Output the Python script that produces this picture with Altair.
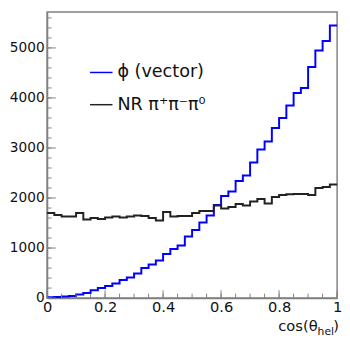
import altair as alt
import pandas as pd

# 40 bins of width 0.025 on cos(theta_hel)
edges = [round(i * 0.025, 3) for i in range(41)]

phi_vector = [15, 20, 30, 40, 70, 100, 155, 200, 240, 290,
              360, 410, 490, 600, 670, 750, 880, 980, 1050, 1230,
              1360, 1510, 1650, 1860, 2040, 2130, 2340, 2450, 2710, 2970,
              3130, 3400, 3600, 3850, 4100, 4200, 4620, 4950, 5140, 5450]

nr_3pi = [1700, 1660, 1630, 1630, 1700, 1570, 1600, 1580, 1610, 1630,
          1610, 1630, 1650, 1640, 1600, 1550, 1720, 1630, 1640, 1640,
          1700, 1740, 1740, 1850, 1790, 1820, 1880, 1850, 1930, 1980,
          1890, 2020, 2060, 2075, 2080, 2080, 2060, 2200, 2220, 2270]

series_names = ["phi", "nr"]
series_colors = ["#0000ff", "#222222"]
legend_labels = ["\u03d5 (vector)", "NR \u03c0\u207a\u03c0\u207b\u03c0\u2070"]

y_major = [0, 1000, 2000, 3000, 4000, 5000]
y_minor = list(range(0, 5601, 200))
x_major = [0, 0.2, 0.4, 0.6, 0.8, 1.0]
x_minor = [round(i * 0.05, 2) for i in range(21)]

rows = []
for name, vals in zip(series_names, [phi_vector, nr_3pi]):
    for e, v in zip(edges, vals + [vals[-1]]):
        rows.append({"x": e, "count": v, "series": name})
df = pd.DataFrame(rows)

FONT = "DejaVu Sans"
GRAY = "#808080"
W, H = 297, 293

xs = alt.Scale(domain=[0, 1], nice=False, zero=False)
ys = alt.Scale(domain=[0, 5720], nice=False)

hist = alt.Chart(df).mark_line(interpolate="step-after", strokeWidth=2).encode(
    x=alt.X("x:Q", scale=xs,
            axis=alt.Axis(values=x_major, format="~g", title=None, labelFontSize=15,
                          labelPadding=2, labelFlush=False, labelOverlap=False)),
    y=alt.Y("count:Q", scale=ys,
            axis=alt.Axis(values=y_major, format="d", title=None, labelFontSize=14,
                          labelPadding=3, labelOverlap=False)),
    color=alt.Color("series:N", scale=alt.Scale(domain=series_names, range=series_colors),
                    legend=None),
)

def yticks(vals, length):
    return alt.Chart(pd.DataFrame({"count": vals})).mark_rule(color=GRAY, strokeWidth=1).encode(
        y=alt.Y("count:Q", scale=ys, title=None), x=alt.value(0), x2=alt.value(length))

def xticks(vals, length):
    return alt.Chart(pd.DataFrame({"x": vals})).mark_rule(color=GRAY, strokeWidth=1).encode(
        x=alt.X("x:Q", scale=xs, title=None), y=alt.value(H), y2=alt.value(H - length))

layers = [hist, yticks(y_minor, 4.5), yticks(y_major, 9), xticks(x_minor, 4.5), xticks(x_major, 8)]

# legend
for i, (lab, col) in enumerate(zip(legend_labels, series_colors)):
    ly = 62 + i * 33
    layers.append(alt.Chart(pd.DataFrame({"t": [lab]})).mark_rule(color=col, strokeWidth=1.5).encode(
        x=alt.value(44), x2=alt.value(67), y=alt.value(ly)))
    layers.append(alt.Chart(pd.DataFrame({"t": [lab]})).mark_text(
        font=FONT, fontSize=18, align="left", baseline="middle", color="#111").encode(
        x=alt.value(72), y=alt.value(ly), text="t:N"))

# axis title cos(theta_hel)
title_parts = ["cos(\u03b8", "hel", ")"]
layers.append(alt.Chart(pd.DataFrame({"t": [title_parts[0]]})).mark_text(
    font=FONT, fontSize=15, align="right", baseline="alphabetic", color="#111").encode(
    x=alt.value(277), y=alt.value(327), text="t:N"))
layers.append(alt.Chart(pd.DataFrame({"t": [title_parts[1]]})).mark_text(
    font=FONT, fontSize=11, align="left", baseline="alphabetic", color="#111").encode(
    x=alt.value(277), y=alt.value(331), text="t:N"))
layers.append(alt.Chart(pd.DataFrame({"t": [title_parts[2]]})).mark_text(
    font=FONT, fontSize=15, align="left", baseline="alphabetic", color="#111").encode(
    x=alt.value(293), y=alt.value(327), text="t:N"))

chart = alt.layer(*layers).properties(
    width=W, height=H,
    padding={"left": 40, "top": 0, "right": 5, "bottom": 42},
    autosize=alt.AutoSizeParams(type="none"),
).configure_view(stroke=GRAY, strokeWidth=1.5).configure_axis(
    grid=False, ticks=False, domainColor=GRAY, domainWidth=1.5,
    labelFont=FONT, labelColor="#111",
)

chart.save("out.html", embed_options={"renderer": "svg", "actions": False})
